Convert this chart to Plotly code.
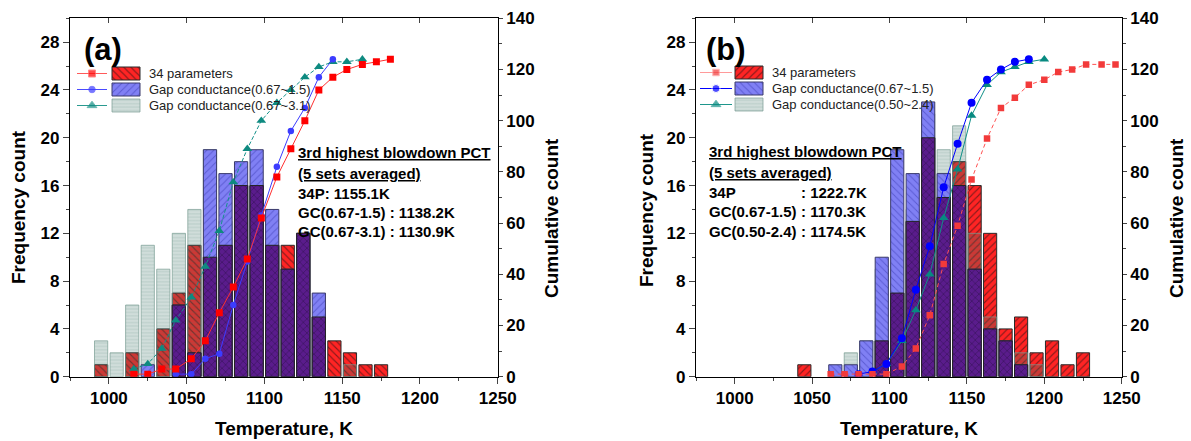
import numpy as np
import plotly.graph_objects as go

# ---------------- data ----------------
bin_centers = [995, 1005, 1015, 1025, 1035, 1045, 1055, 1065, 1075, 1085, 1095, 1105, 1115,
               1125, 1135, 1145, 1155, 1165, 1175, 1185, 1195, 1205, 1215, 1225, 1235, 1245]
# x positions at which the cumulative points are drawn
cum_x = [1016, 1025, 1034, 1043, 1053, 1062, 1071, 1080, 1089, 1098, 1108, 1117, 1126,
         1135, 1144, 1153, 1163, 1172, 1181, 1190, 1200, 1209, 1218, 1227, 1237, 1246]

# panel (a) frequency counts
a_red = [1, 0, 2, 0, 4, 7, 11, 10, 11, 16, 16, 11, 11, 12, 5, 3, 2, 1, 1, 0, 0, 0, 0, 0, 0, 0]
a_blue = [0, 0, 0, 1, 0, 6, 2, 19, 17, 18, 19, 14, 9, 12, 7, 0, 0, 0, 0, 0, 0, 0, 0, 0, 0, 0]
a_gray = [3, 2, 6, 11, 9, 12, 14, 19, 13, 11, 7, 5, 5, 4, 2, 0, 1, 0, 0, 0, 0, 0, 0, 0, 0, 0]
# panel (b) frequency counts
b_red = [0, 0, 0, 0, 0, 1, 0, 0, 0, 0, 3, 7, 13, 20, 15, 18, 16, 12, 4, 5, 2, 3, 1, 2, 0, 0]
b_blue = [0, 0, 0, 0, 0, 0, 0, 1, 1, 3, 10, 19, 17, 23, 17, 16, 9, 4, 3, 1, 0, 0, 0, 0, 0, 0]
b_gray = [0, 0, 0, 0, 0, 0, 0, 0, 2, 3, 9, 12, 14, 22, 19, 21, 12, 5, 2, 2, 1, 0, 0, 0, 0, 0]

# index range (first, last) of plotted cumulative points
a_cum_span = {"red": (0, 18), "blue": (3, 14), "gray": (0, 16)}
b_cum_span = {"red": (5, 25), "blue": (7, 19), "gray": (8, 20)}

a_labels = ["34 parameters", "Gap conductance(0.67~1.5)", "Gap conductance(0.67~3.1)"]
b_labels = ["34 parameters", "Gap conductance(0.67~1.5)", "Gap conductance(0.50~2.4)"]

a_text_head = ["3rd highest blowdown PCT", "(5 sets averaged)"]
a_text_rows = ["34P: 1155.1K", "GC(0.67-1.5) : 1138.2K", "GC(0.67-3.1) : 1130.9K"]
b_text_head = ["3rd highest blowdown PCT", "(5 sets averaged)"]
b_text_lab = ["34P", "GC(0.67-1.5)", "GC(0.50-2.4)"]
b_text_val = [": 1222.7K", ": 1170.3K", ": 1174.5K"]

x_ticks = [1000, 1050, 1100, 1150, 1200, 1250]

# ---------------- geometry / style ----------------
W, H = 1191, 441
FONT = "Liberation Sans, Arial, sans-serif"
BAR_W = 8.5


def px(x):
    return x / W


def py(y):
    return 1 - y / H


def nz(v):
    return [c if c else None for c in v]


RED_BG, RED_FG = "#ff2424", "#111111"
BLUE_BG, BLUE_FG = "#8080f4", "#3434b0"
PURPLE_BG = "#5a1c8c"
GRAY_BG, GRAY_FG = "rgba(60,112,100,0.24)", "rgba(70,125,112,0.33)"

fig = go.Figure()

panels = [
    dict(x="x", yl="y", yr="y2", red=a_red, blue=a_blue, gray=a_gray, span=a_cum_span,
         red_shape="\\", blue_shape="/",
         red_line=dict(color="#ff3030", width=1), red_mk=dict(symbol="square", color="#ff0000", size=7),
         blue_line=dict(color="#3c3cff", width=1), blue_mk=dict(symbol="circle", color="#3c3cff", size=6.5),
         gray_line=dict(color="#14918a", width=1, dash="4px,2px"),
         gray_mk=dict(symbol="triangle-up", color="#0e8a80", size=8.5)),
    dict(x="x2", yl="y3", yr="y4", red=b_red, blue=b_blue, gray=b_gray, span=b_cum_span,
         red_shape="/", blue_shape="\\",
         red_line=dict(color="#ff5050", width=1, dash="4px,3px"), red_mk=dict(symbol="square", color="#f23a3a", size=6.5),
         blue_line=dict(color="#0000ff", width=1), blue_mk=dict(symbol="circle", color="#0000ff", size=8),
         gray_line=dict(color="#119088", width=1), gray_mk=dict(symbol="triangle-up", color="#078a80", size=8.5)),
]

for p in panels:
    red, blue, gray = p["red"], p["blue"], p["gray"]
    overlap = [min(r, b) for r, b in zip(red, blue)]
    # red (bottom), translucent gray, blue, then the red/blue overlap on top
    fig.add_trace(go.Bar(x=bin_centers, y=nz(red), width=BAR_W, xaxis=p["x"], yaxis=p["yl"],
                         marker=dict(color=RED_BG, line=dict(color="#2a2a2a", width=1),
                                     pattern=dict(shape=p["red_shape"], fgcolor=RED_FG, size=5, solidity=0.22)),
                         showlegend=False, hoverinfo="skip"))
    fig.add_trace(go.Bar(x=bin_centers, y=nz(gray), width=BAR_W, xaxis=p["x"], yaxis=p["yl"],
                         marker=dict(color=GRAY_BG, line=dict(color="rgba(120,155,145,0.7)", width=1),
                                     pattern=dict(shape="-", fgcolor=GRAY_FG, size=3.4, solidity=0.3)),
                         showlegend=False, hoverinfo="skip"))
    fig.add_trace(go.Bar(x=bin_centers, y=nz(blue), width=BAR_W, xaxis=p["x"], yaxis=p["yl"],
                         marker=dict(color=BLUE_BG, line=dict(color="#3a3a6a", width=1),
                                     pattern=dict(shape=p["blue_shape"], fgcolor=BLUE_FG, size=5, solidity=0.18)),
                         showlegend=False, hoverinfo="skip"))
    fig.add_trace(go.Bar(x=bin_centers, y=nz(overlap), width=BAR_W, xaxis=p["x"], yaxis=p["yl"],
                         marker=dict(color=PURPLE_BG, line=dict(color="#222222", width=1),
                                     pattern=dict(shape="x", fgcolor="#160826", size=5, solidity=0.22)),
                         showlegend=False, hoverinfo="skip"))
    for key in ["gray", "blue", "red"]:
        s, e = p["span"][key]
        cs = np.cumsum(p[key])
        fig.add_trace(go.Scatter(x=cum_x[s:e + 1], y=cs[s:e + 1].tolist(), mode="lines+markers",
                                 xaxis=p["x"], yaxis=p["yr"], line=p[key + "_line"],
                                 marker=p[key + "_mk"], showlegend=False, hoverinfo="skip"))

# ---------------- custom legends (pixel-space helper axis) ----------------
legend_specs = [
    dict(x0=77, x1=107, sx0=112, sx1=140, tx=147, rows=[73.5, 89.5, 105.5], labels=a_labels, p=panels[0],
         lines=[dict(color="#ff5a5a", width=1), dict(color="#4a4aff", width=1), dict(color="#2a9a90", width=1)]),
    dict(x0=700, x1=732, sx0=735, sx1=763, tx=770, rows=[72.5, 88.5, 104.5], labels=b_labels, p=panels[1],
         lines=[dict(color="#ff9a9a", width=1), dict(color="#0000ff", width=1), dict(color="#1e968c", width=1)]),
]
for L in legend_specs:
    p = L["p"]
    sw = [(RED_BG, p["red_shape"], RED_FG, "#2a2a2a", 5, 0.22),
          (BLUE_BG, p["blue_shape"], BLUE_FG, "#3a3a6a", 5, 0.18),
          (GRAY_BG, "-", GRAY_FG, "rgba(120,155,145,0.7)", 3.4, 0.3)]
    mks = [p["red_mk"], p["blue_mk"], p["gray_mk"]]
    for i, yrow in enumerate(L["rows"]):
        xm = (L["x0"] + L["x1"]) / 2
        mk = dict(mks[i])
        mk["size"] = [0, mk["size"], 0]
        fig.add_trace(go.Scatter(x=[L["x0"], xm, L["x1"]], y=[yrow] * 3, mode="lines+markers",
                                 xaxis="x5", yaxis="y5", line=L["lines"][i], marker=mk,
                                 showlegend=False, hoverinfo="skip"))
        bg, shp, fg, lc, sz, so = sw[i]
        fig.add_trace(go.Bar(x=[(L["sx0"] + L["sx1"]) / 2], y=[13], base=[yrow - 6.5],
                             width=L["sx1"] - L["sx0"], xaxis="x5", yaxis="y5",
                             marker=dict(color=bg, line=dict(color=lc, width=1),
                                         pattern=dict(shape=shp, fgcolor=fg, size=sz, solidity=so)),
                             showlegend=False, hoverinfo="skip"))
        fig.add_annotation(x=px(L["tx"]), y=py(yrow), xref="paper", yref="paper", text=L["labels"][i],
                           showarrow=False, xanchor="left", yanchor="middle",
                           font=dict(family=FONT, size=13, color="#222222"))

# ---------------- axes ----------------
tickfont = dict(family=FONT, size=17, color="black", weight="bold")
xa = dict(range=[975, 1250], tickvals=x_ticks, ticks="outside", ticklen=6, tickwidth=1.3,
          showline=True, linecolor="black", linewidth=1.3, showgrid=False, zeroline=False,
          tickfont=tickfont, minor=dict(dtick=25, tick0=1000, ticks="outside", ticklen=3, tickwidth=1.2),
          fixedrange=True)
top = dict(range=[975, 1250], tickvals=x_ticks, ticks="inside", ticklen=5, tickwidth=1.2,
           showline=True, linecolor="black", linewidth=1.3, showgrid=False, zeroline=False,
           showticklabels=False, side="top", fixedrange=True)
yl = dict(range=[0, 30], tickvals=[0, 4, 8, 12, 16, 20, 24, 28], ticks="outside", ticklen=6, tickwidth=1.3,
          showline=True, linecolor="black", linewidth=1.3, showgrid=False, zeroline=False,
          tickfont=tickfont, minor=dict(dtick=2, tick0=0, ticks="outside", ticklen=3, tickwidth=1.2),
          fixedrange=True)
yr = dict(range=[0, 140], tickvals=[0, 20, 40, 60, 80, 100, 120, 140], ticks="outside", ticklen=4,
          tickwidth=1.3, showline=True, linecolor="black", linewidth=1.3, showgrid=False, zeroline=False,
          tickfont=tickfont, minor=dict(dtick=10, tick0=0, ticks="outside", ticklen=3, tickwidth=1.2),
          side="right", fixedrange=True)

dom_y = [py(376.7), py(18.3)]
dom_a = [px(70), px(497.7)]
dom_b = [px(696), px(1121.7)]

fig.update_layout(
    width=W, height=H, margin=dict(l=0, r=0, t=0, b=0, autoexpand=False),
    paper_bgcolor="white", plot_bgcolor="rgba(0,0,0,0)", barmode="overlay", showlegend=False,
    font=dict(family=FONT, color="black"),
    xaxis=dict(xa, domain=dom_a, anchor="y"),
    yaxis=dict(yl, domain=dom_y, anchor="x"),
    yaxis2=dict(yr, overlaying="y", anchor="x"),
    xaxis3=dict(top, overlaying="x", anchor="y"),
    xaxis2=dict(xa, domain=dom_b, anchor="y3"),
    yaxis3=dict(yl, domain=dom_y, anchor="x2"),
    yaxis4=dict(yr, overlaying="y3", anchor="x2"),
    xaxis4=dict(top, overlaying="x2", anchor="y3"),
    xaxis5=dict(domain=[0, 1], range=[0, W], visible=False, fixedrange=True, anchor="y5"),
    yaxis5=dict(domain=[0, 1], range=[H, 0], visible=False, fixedrange=True, anchor="x5"),
)
# empty traces so that the top (mirror) axes are created
fig.add_trace(go.Scatter(x=[], y=[], xaxis="x3", yaxis="y", showlegend=False))
fig.add_trace(go.Scatter(x=[], y=[], xaxis="x4", yaxis="y3", showlegend=False))

# ---------------- texts ----------------
bold = dict(family=FONT, color="black", weight="bold")


def ann(x, y, text, size, xanchor="left", angle=0):
    fig.add_annotation(x=px(x), y=py(y), xref="paper", yref="paper", text=text, showarrow=False,
                       xanchor=xanchor, yanchor="middle", textangle=angle, font=dict(bold, size=size))


ann(82, 49, "(a)", 31)
ann(704, 50, "(b)", 31)

ann(18, 207, "Frequency count", 19, "center", -90)
ann(552, 218, "Cumulative count", 19, "center", -90)
ann(646, 210, "Frequency count", 19, "center", -90)
ann(1177, 218, "Cumulative count", 19, "center", -90)
ann(284, 428, "Temperature, K", 19, "center")
ann(909, 428, "Temperature, K", 19, "center")

ys = [153, 173, 193, 212.5, 232]
for i, t in enumerate(a_text_head):
    ann(295.5, ys[i], "<u>" + t + "</u>", 15)
for i, t in enumerate(a_text_rows):
    ann(295.5, ys[i + 2], t, 15)

ysb = [151.5, 172, 192, 211.5, 231]
for i, t in enumerate(b_text_head):
    ann(706.5, ysb[i], "<u>" + t + "</u>", 15)
for i, t in enumerate(b_text_lab):
    ann(706.5, ysb[i + 2], t, 15)
    ann(799, ysb[i + 2], b_text_val[i], 15)

fig.write_html("out.html", config={"displayModeBar": False},
               post_script="document.body.style.margin='0px';")
